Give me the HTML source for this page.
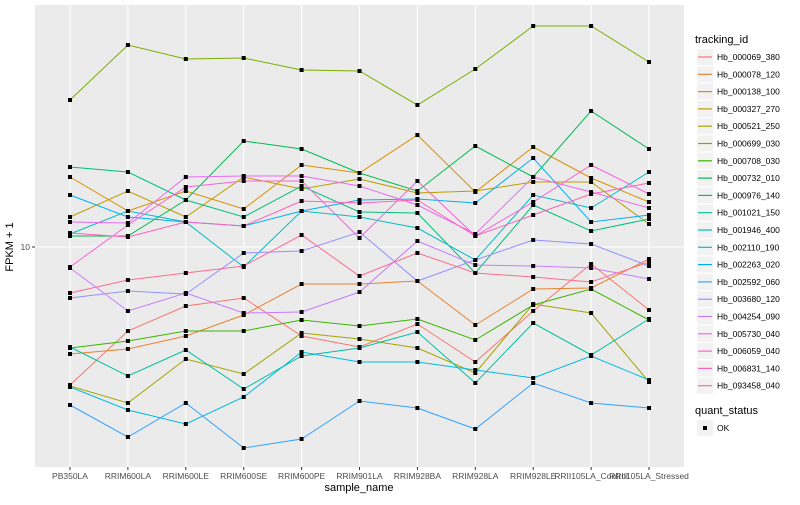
<!DOCTYPE html>
<html><head><meta charset="utf-8"><style>
body{margin:0;background:#fff;font-family:"Liberation Sans",sans-serif}
svg text{font-family:"Liberation Sans",sans-serif}
</style></head><body>
<svg id="chart" width="800" height="500" xmlns="http://www.w3.org/2000/svg">
<rect x="35" y="5" width="649" height="462" fill="#ebebeb"/>
<g id="grid"></g><g id="lines"></g><g id="pts"></g><g id="axes"></g><g id="legend"></g>
<text x="13" y="247" transform="rotate(-90 13 247)" text-anchor="middle" font-size="11" fill="#000">FPKM + 1</text>
<text x="359" y="491" text-anchor="middle" font-size="11" fill="#000">sample_name</text>
</svg>
<script>
const samples=["PB350LA","RRIM600LA","RRIM600LE","RRIM600SE","RRIM600PE","RRIM901LA","RRIM928BA","RRIM928LA","RRIM928LE","RRII105LA_Control","RRII105LA_Stressed"];
const ids=["Hb_000069_380","Hb_000078_120","Hb_000138_100","Hb_000327_270","Hb_000521_250","Hb_000699_030","Hb_000708_030","Hb_000732_010","Hb_000976_140","Hb_001021_150","Hb_001946_400","Hb_002110_190","Hb_002263_020","Hb_002592_060","Hb_003680_120","Hb_004254_090","Hb_005730_040","Hb_006059_040","Hb_006831_140","Hb_093458_040"];
const colors=["#F8766D","#EA8331","#D89000","#C09B00","#A3A500","#7CAE00","#39B600","#00BB4E","#00BF7D","#00C1A3","#00BFC4","#00BAE0","#00B0F6","#35A2FF","#9590FF","#C77CFF","#E76BF3","#FA62DB","#FF62BC","#FF6C91"];
// log10(FPKM+1) per series
const s0=[0.448,0.664,0.764,0.796,0.644,0.600,0.692,0.540,0.744,0.932,0.748];
const s1=[0.572,0.592,0.644,0.728,0.852,0.852,0.864,0.688,0.832,0.836,0.952];
const s2=[1.28,1.144,1.224,1.152,1.328,1.296,1.448,1.22,1.4,1.276,1.18];
const s3=[1.12,1.224,1.12,1.28,1.232,1.272,1.216,1.224,1.26,1.26,1.092];
const s4=[0.444,0.376,0.552,0.492,0.656,0.632,0.596,0.496,0.772,0.736,0.46];
const s5=[1.588,1.808,1.752,1.756,1.708,1.704,1.568,1.712,1.884,1.884,1.74];
const s6=[0.596,0.624,0.664,0.664,0.708,0.684,0.712,0.628,0.768,0.832,0.708];
const s7=[1.044,1.044,1.188,1.424,1.392,1.296,1.224,1.404,1.28,1.544,1.392];
const s8=[1.32,1.3,1.188,1.12,1.244,1.14,1.136,0.896,1.168,1.064,1.112];
const s9=[0.6,0.484,0.588,0.432,0.564,0.596,0.66,0.456,0.696,0.568,0.712];
const s10=[1.052,1.144,1.1,0.92,1.144,1.12,1.076,0.948,1.208,1.156,1.3];
const s11=[0.44,0.348,0.292,0.4,0.58,0.54,0.54,0.508,0.476,0.564,0.468];
const s12=[1.208,1.12,1.1,1.084,1.144,1.188,1.192,1.176,1.356,1.1,1.128];
const s13=[0.368,0.24,0.376,0.196,0.232,0.384,0.356,0.272,0.456,0.376,0.356];
const s14=[0.796,0.824,0.812,0.976,0.984,1.06,0.864,0.948,1.028,1.012,0.924];
const s15=[0.916,0.744,0.816,0.736,0.74,0.82,1.024,0.928,0.924,0.916,0.872];
const s16=[1.1,1.096,1.28,1.284,1.284,1.244,1.168,1.052,1.28,1.22,1.156];
const s17=[0.92,1.088,1.24,1.264,1.264,1.036,1.264,1.044,1.18,1.328,1.212];
const s18=[1.056,1.04,1.1,1.084,1.184,1.176,1.188,1.044,1.128,1.212,1.256];
const s19=[0.816,0.868,0.896,0.924,1.048,0.884,0.976,0.896,0.88,0.86,0.94];
const series=[s0,s1,s2,s3,s4,s5,s6,s7,s8,s9,s10,s11,s12,s13,s14,s15,s16,s17,s18,s19];
const yTicks=[10];

const NS="http://www.w3.org/2000/svg";
function mk(t,a,p){const e=document.createElementNS(NS,t);for(const k in a)e.setAttribute(k,a[k]);p.appendChild(e);return e;}
const xs=i=>70+i*57.9;
const ys=l=>497-250*l;
const G=document.getElementById('grid'),L=document.getElementById('lines'),P=document.getElementById('pts'),A=document.getElementById('axes'),LG=document.getElementById('legend');
samples.forEach((s,i)=>{
  const g=mk('line',{x1:xs(i),x2:xs(i),y1:5,y2:467,stroke:'#fff','stroke-width':1.1},G);
  
  
  const tk=mk('line',{x1:xs(i),x2:xs(i),y1:467,y2:470,stroke:'#333'},A);
  
  
  const t=mk('text',{x:xs(i),y:479,'text-anchor':'middle','font-size':8.5,fill:'#4d4d4d'},A);
  t.textContent=s;
  
  
});
yTicks.forEach(v=>{
  const y=ys(Math.log10(v));
  const g=mk('line',{x1:35,x2:684,y1:y,y2:y,stroke:'#fff','stroke-width':1.1},G);
  
  
  const tk=mk('line',{x1:32,x2:35,y1:y,y2:y,stroke:'#333'},A);
  
  
  const t=mk('text',{x:30,y:y+3,'text-anchor':'end','font-size':8.5,fill:'#4d4d4d'},A);
  t.textContent=v;
  
  
});
series.forEach((d,k)=>{
  const pl=mk('polyline',{points:d.map((v,i)=>xs(i)+','+ys(v)).join(' '),fill:'none',stroke:colors[k],'stroke-width':1},L);
  
  
  d.forEach((v,i)=>{
    const r=mk('rect',{x:xs(i)-2,y:ys(v)-2,width:4,height:4,fill:'#000'},P);
    
    
  });
});
const tt=mk('text',{x:695,y:43,'font-size':11,fill:'#000'},LG);
tt.textContent='tracking_id';


ids.forEach((id,k)=>{
  const y=57+k*17.3;
  const bg=mk('rect',{x:697,y:y-8,width:16,height:16,fill:'#f2f2f2'},LG);
  
  
  const ln=mk('line',{x1:698,x2:712,y1:y,y2:y,stroke:colors[k],'stroke-width':1.2},LG);
  
  
  const t=mk('text',{x:717,y:y+3,'font-size':8.5,fill:'#000'},LG);
  t.textContent=id;
  
  
});
const qt=mk('text',{x:695,y:414,'font-size':11,fill:'#000'},LG);
qt.textContent='quant_status';


const qb=mk('rect',{x:697,y:420,width:16,height:16,fill:'#f2f2f2'},LG);


const qp=mk('rect',{x:703,y:426,width:4,height:4,fill:'#000'},LG);


const qx=mk('text',{x:717,y:431,'font-size':8.5,fill:'#000'},LG);
qx.textContent='OK';


</script>
</body></html>
